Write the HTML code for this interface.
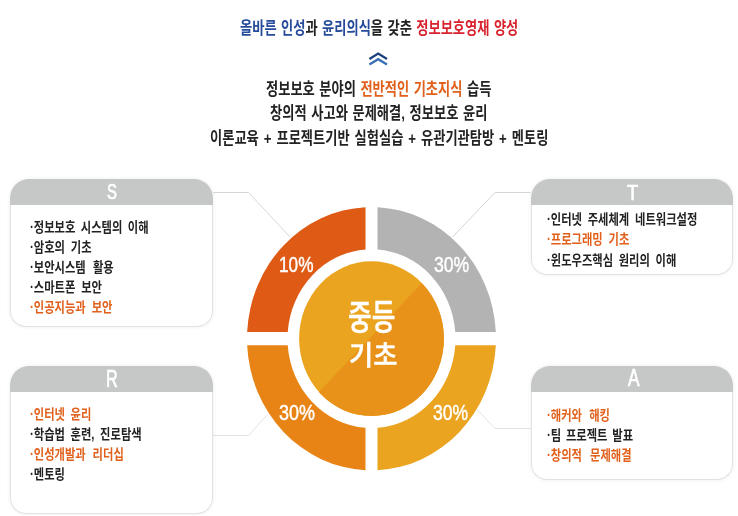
<!DOCTYPE html>
<html lang="ko"><head><meta charset="utf-8"><title>중등 기초</title>
<style>
html,body{margin:0;padding:0;background:#fff}
body{width:738px;height:516px;position:relative;overflow:hidden;font-family:"Liberation Sans","Noto Sans CJK KR",sans-serif}
.t{position:absolute;white-space:nowrap;transform-origin:0 0}
.g{position:absolute;left:0;top:0}
.box{position:absolute;border-radius:19px 19px 16px 16px;background:#fff;box-shadow:0 0 4px rgba(0,0,0,.07)}
.hd{position:absolute;left:0;top:0;right:0;background:#c6c8c7;border-radius:19px 19px 0 0}
.bd{position:absolute;left:0;right:0;bottom:0;box-sizing:border-box;border:1px solid #e2e2e2;border-top:none;border-radius:0 0 16px 16px}
</style></head><body>
<svg class="g" width="738" height="516" viewBox="0 0 738 516">
<defs><clipPath id="cc"><ellipse cx="371.5" cy="338.7" rx="72.4" ry="77.4"/></clipPath></defs>
<g fill="none" stroke="#d6d6d8" stroke-width="1">
<polyline points="213,192.5 248.5,192.5 290,237"/>
<polyline points="530.7,192.5 495,192.5 452.5,237"/>
<polyline points="213,435.5 248.5,435.5 267,415" stroke="#e2e2e6"/>
<polyline points="530.7,428.5 495,428.5 477,409.5" stroke="#e2e2e6"/>
</g>
<path fill="#df5a14" d="M365.50,207.15 A124.5,131.7 0 0 0 247.16,332.10 L287.73,332.10 A84.0,89.4 0 0 1 365.50,249.53 Z"/>
<path fill="#b3b3b3" d="M377.50,207.15 A124.5,131.7 0 0 1 495.84,332.10 L455.27,332.10 A84.0,89.4 0 0 0 377.50,249.53 Z"/>
<path fill="#e88416" d="M365.50,470.25 A124.5,131.7 0 0 1 247.16,345.30 L287.73,345.30 A84.0,89.4 0 0 0 365.50,427.87 Z"/>
<path fill="#eba41f" d="M377.50,470.25 A124.5,131.7 0 0 0 495.84,345.30 L455.27,345.30 A84.0,89.4 0 0 1 377.50,427.87 Z"/>
<ellipse cx="371.5" cy="338.7" rx="72.4" ry="77.4" fill="#eba41f"/>
<polygon clip-path="url(#cc)" fill="#e8921a" points="461.5,241.2 461.5,438.7 281.5,438.7 281.5,431.4"/>
<g fill="none" stroke-width="2.3" stroke-linecap="butt" stroke-linejoin="miter">
<polyline stroke="#1d3f7d" points="369.4,58.9 378.2,53.6 387,58.9"/>
<polyline stroke="#3c70b6" points="369.4,64.5 378.2,59.2 387,64.5"/>
</g>
</svg>
<div class="box" style="left:10.2px;top:179px;width:202.8px;height:148px"><div class="hd" style="height:25.6px"></div><div class="bd" style="top:25.6px"></div></div>
<div class="box" style="left:10.2px;top:366px;width:202.8px;height:147.5px"><div class="hd" style="height:25.8px"></div><div class="bd" style="top:25.8px"></div></div>
<div class="box" style="left:530.5px;top:179px;width:202.7px;height:95.5px"><div class="hd" style="height:25.6px"></div><div class="bd" style="top:25.6px"></div></div>
<div class="box" style="left:530.5px;top:366px;width:202.7px;height:113.5px"><div class="hd" style="height:25.8px"></div><div class="bd" style="top:25.8px"></div></div>
<div class="t" style="left:239.57px;top:20.13px;font-size:17.2px;line-height:17.2px;font-weight:700;color:#222222;transform:scaleX(0.771);word-spacing:0.99px"><span style="color:#264b9b">올바른 인성</span>과 <span style="color:#264b9b">윤리의식</span>을 갖춘 <span style="color:#d8232f">정보보호영재 양성</span></div>
<div class="t" style="left:266.27px;top:80.63px;font-size:17.2px;line-height:17.2px;font-weight:700;color:#222222;transform:scaleX(0.771);word-spacing:1.08px">정보보호 분야의 <span style="color:#e1601b">전반적인 기초지식</span> 습득</div>
<div class="t" style="left:270.17px;top:105.33px;font-size:17.2px;line-height:17.2px;font-weight:700;color:#222222;transform:scaleX(0.771);word-spacing:1.28px">창의적 사고와 문제해결, 정보보호 윤리</div>
<div class="t" style="left:209.77px;top:130.20px;font-size:17.2px;line-height:17.2px;font-weight:700;color:#222222;transform:scaleX(0.771);word-spacing:1.67px">이론교육 + 프로젝트기반 실험실습 + 유관기관탐방 + 멘토링</div>
<div class="t" style="left:29.71px;top:219.56px;font-size:14.2px;line-height:14.2px;font-weight:700;color:#222222;transform:scaleX(0.796);word-spacing:2.93px">·정보보호 시스템의 이해</div>
<div class="t" style="left:29.71px;top:239.66px;font-size:14.2px;line-height:14.2px;font-weight:700;color:#222222;transform:scaleX(0.796);word-spacing:3.46px">·암호의 기초</div>
<div class="t" style="left:29.71px;top:259.90px;font-size:14.2px;line-height:14.2px;font-weight:700;color:#222222;transform:scaleX(0.796);word-spacing:5.10px">·보안시스템 활용</div>
<div class="t" style="left:29.71px;top:279.86px;font-size:14.2px;line-height:14.2px;font-weight:700;color:#222222;transform:scaleX(0.796);word-spacing:3.44px">·스마트폰 보안</div>
<div class="t" style="left:29.71px;top:299.96px;font-size:14.2px;line-height:14.2px;font-weight:700;color:#e1601b;transform:scaleX(0.796);word-spacing:3.57px">·인공지능과 보안</div>
<div class="t" style="left:29.71px;top:406.86px;font-size:14.2px;line-height:14.2px;font-weight:700;color:#e1601b;transform:scaleX(0.796);word-spacing:3.07px">·인터넷 윤리</div>
<div class="t" style="left:29.71px;top:427.10px;font-size:14.2px;line-height:14.2px;font-weight:700;color:#222222;transform:scaleX(0.796);word-spacing:3.14px">·학습법 훈련, 진로탐색</div>
<div class="t" style="left:29.71px;top:447.06px;font-size:14.2px;line-height:14.2px;font-weight:700;color:#e1601b;transform:scaleX(0.796);word-spacing:4.71px">·인성개발과 리더십</div>
<div class="t" style="left:29.71px;top:467.16px;font-size:14.2px;line-height:14.2px;font-weight:700;color:#222222;transform:scaleX(0.796);word-spacing:0.00px">·멘토링</div>
<div class="t" style="left:547.01px;top:212.36px;font-size:14.2px;line-height:14.2px;font-weight:700;color:#222222;transform:scaleX(0.796);word-spacing:3.31px">·인터넷 주세체계 네트워크설정</div>
<div class="t" style="left:547.01px;top:232.46px;font-size:14.2px;line-height:14.2px;font-weight:700;color:#e1601b;transform:scaleX(0.796);word-spacing:3.46px">·프로그래밍 기초</div>
<div class="t" style="left:547.01px;top:252.56px;font-size:14.2px;line-height:14.2px;font-weight:700;color:#222222;transform:scaleX(0.796);word-spacing:3.12px">·윈도우즈핵심 원리의 이해</div>
<div class="t" style="left:547.01px;top:408.26px;font-size:14.2px;line-height:14.2px;font-weight:700;color:#e1601b;transform:scaleX(0.796);word-spacing:5.21px">·해커와 해킹</div>
<div class="t" style="left:547.01px;top:428.36px;font-size:14.2px;line-height:14.2px;font-weight:700;color:#222222;transform:scaleX(0.796);word-spacing:2.07px">·팀 프로젝트 발표</div>
<div class="t" style="left:547.01px;top:448.46px;font-size:14.2px;line-height:14.2px;font-weight:700;color:#e1601b;transform:scaleX(0.796);word-spacing:6.31px">·창의적 문제해결</div>
<div class="t" style="left:347.96px;top:300.87px;font-size:35.51px;line-height:35.51px;font-weight:500;color:#fff;transform:scaleX(0.725);-webkit-text-stroke:0.5px #fff">중등</div>
<div class="t" style="left:348.57px;top:341.87px;font-size:27.74px;line-height:27.74px;font-weight:500;color:#fff;transform:scaleX(0.948);-webkit-text-stroke:0.5px #fff">기초</div>
<div class="t" style="left:278.62px;top:253.83px;font-size:21.83px;line-height:21.83px;font-weight:400;color:#fff;transform:scaleX(0.788);-webkit-text-stroke:0.45px #fff">10%</div>
<div class="t" style="left:434.40px;top:253.95px;font-size:21.69px;line-height:21.69px;font-weight:400;color:#fff;transform:scaleX(0.812);-webkit-text-stroke:0.45px #fff">30%</div>
<div class="t" style="left:278.78px;top:401.75px;font-size:21.69px;line-height:21.69px;font-weight:400;color:#fff;transform:scaleX(0.827);-webkit-text-stroke:0.45px #fff">30%</div>
<div class="t" style="left:433.40px;top:401.75px;font-size:21.69px;line-height:21.69px;font-weight:400;color:#fff;transform:scaleX(0.807);-webkit-text-stroke:0.45px #fff">30%</div>
<div class="t" style="left:106.65px;top:181.00px;font-size:21.97px;line-height:21.97px;font-weight:400;color:#fff;transform:scaleX(0.679);-webkit-text-stroke:0.7px #fff">S</div>
<div class="t" style="left:627.43px;top:180.64px;font-size:22.90px;line-height:22.90px;font-weight:400;color:#fff;transform:scaleX(0.804);-webkit-text-stroke:0.7px #fff">T</div>
<div class="t" style="left:106.10px;top:367.29px;font-size:23.82px;line-height:23.82px;font-weight:400;color:#fff;transform:scaleX(0.683);-webkit-text-stroke:0.7px #fff">R</div>
<div class="t" style="left:628.30px;top:367.34px;font-size:23.48px;line-height:23.48px;font-weight:400;color:#fff;transform:scaleX(0.736);-webkit-text-stroke:0.7px #fff">A</div>
</body></html>
